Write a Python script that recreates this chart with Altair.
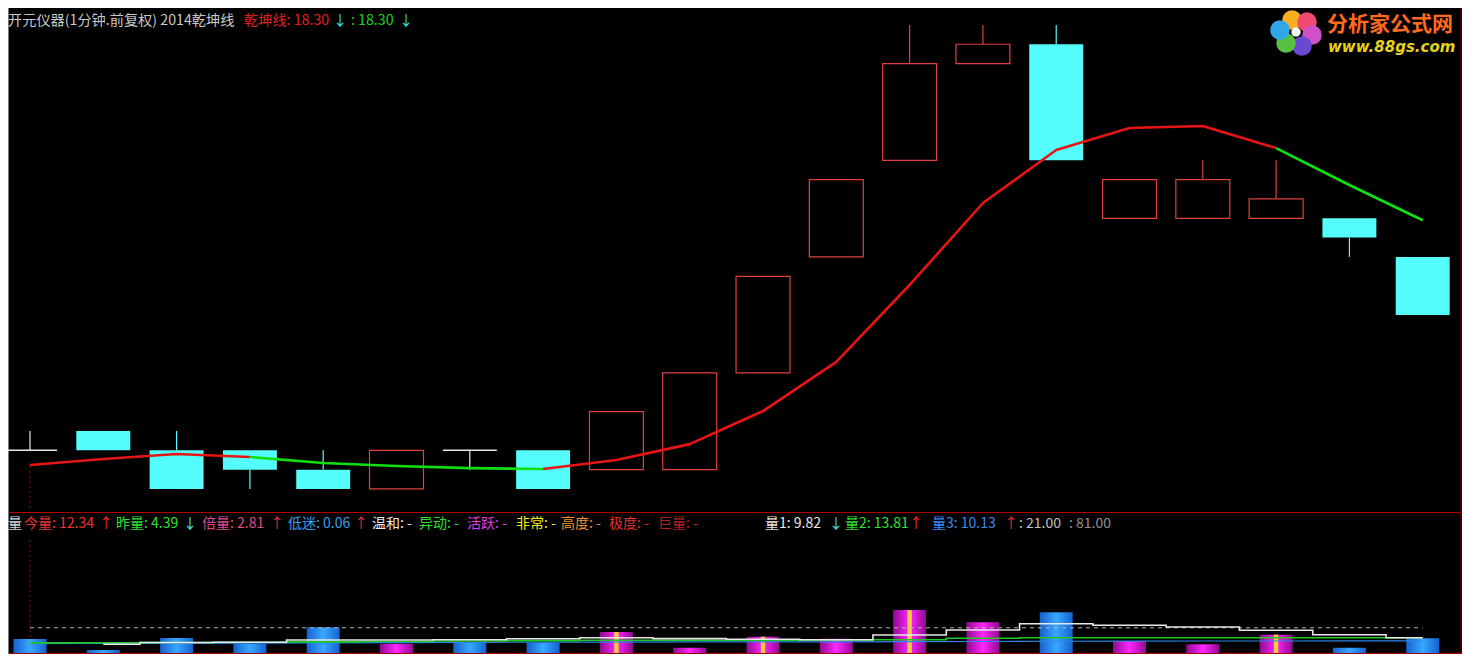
import altair as alt
import pandas as pd

W, H = 1454, 646
FONT = "Noto Sans CJK SC"

# ---------------- data ----------------
opens  = [18.18, 18.19, 18.18, 18.18, 18.17, 18.16, 18.18, 18.18, 18.17, 18.17,
          18.22, 18.28, 18.33, 18.38, 18.39, 18.30, 18.30, 18.30, 18.30, 18.28]
highs  = [18.19, 18.19, 18.19, 18.18, 18.18, 18.18, 18.18, 18.18, 18.20, 18.22,
          18.27, 18.32, 18.40, 18.40, 18.40, 18.32, 18.33, 18.33, 18.30, 18.28]
lows   = [18.18, 18.18, 18.16, 18.16, 18.16, 18.16, 18.17, 18.16, 18.17, 18.17,
          18.22, 18.28, 18.33, 18.38, 18.33, 18.30, 18.30, 18.30, 18.28, 18.25]
closes = [18.18, 18.18, 18.16, 18.17, 18.16, 18.18, 18.18, 18.16, 18.20, 18.22,
          18.27, 18.32, 18.38, 18.39, 18.33, 18.32, 18.32, 18.31, 18.29, 18.25]
qkx_line = [18.1724, 18.1755, 18.1781, 18.1765, 18.1734, 18.1719, 18.1708, 18.1703,
            18.1750, 18.1832, 18.2003, 18.2257, 18.2655, 18.3079, 18.3353, 18.3467,
            18.3477, 18.3363, 18.3172, 18.2990]
qkx_trend = ["r", "r", "r", "r", "g", "g", "g", "g", "r", "r",
             "r", "r", "r", "r", "r", "r", "r", "r", "g", "g"]

volumes = [11.7, 2.5, 12.5, 7.8, 21.4, 7.8, 8.6, 8.6, 17.5, 4.4,
           13.6, 11.9, 35.8, 25.6, 33.9, 10.0, 7.2, 15.3, 4.39, 12.34]
vol_flag = [0, 0, 0, 0, 0, 0, 0, 0, 1, 0, 1, 0, 1, 0, 0, 0, 0, 1, 0, 0]
ma_white = [None, 7.25, 8.75, 8.9, 10.8, 10.8, 11.1, 11.9, 12.75, 12.0,
            11.4, 11.1, 15.0, 19.2, 24.4, 23.1, 21.7, 19.0, 15.25, 12.75]
ma_green = [8.4, 8.6, 8.8, 9.0, 9.3, 9.6, 10.0, 10.3, 10.6, 10.6,
            10.6, 10.8, 11.0, 12.3, 12.75, 12.75, 12.75, 12.75, 12.75, 12.75]
ma_blue = [7.75, 7.9, 8.1, 8.3, 8.5, 8.7, 8.9, 9.0, 9.1, 9.2,
           9.2, 9.3, 9.4, 9.6, 9.8, 9.9, 10.0, 10.0, 10.1, 10.13]
vol_ref_level = 21.0

n = len(opens)
idx = list(range(n))

# ---------------- scales ----------------
xs = alt.Scale(domain=[-0.3001, 19.536], range=[0, W], nice=False, zero=False)
ys_price = alt.Scale(domain=[18.15, 18.41], range=[500.3, -2.4], nice=False, zero=False)
ys_vol = alt.Scale(domain=[0, 100], range=[645, 525], nice=False, zero=False)

def X(f):
    return alt.X(f, type="quantitative", scale=xs, axis=None)

def X2(f):
    return alt.X2(f)

def YP(f):
    return alt.Y(f, type="quantitative", scale=ys_price, axis=None)

def YV(f):
    return alt.Y(f, type="quantitative", scale=ys_vol, axis=None)

CYAN = "#54FCFC"
RED = "#E04040"
HW = 0.368

cand = pd.DataFrame({"i": idx, "o": opens, "h": highs, "l": lows, "c": closes})
cand["kind"] = ["up" if c > o else ("down" if c < o else "doji") for o, c in zip(opens, closes)]
cand["x1"] = cand["i"] - HW
cand["x2"] = cand["i"] + HW
cand["top"] = cand[["o", "c"]].max(axis=1)
cand["bot"] = cand[["o", "c"]].min(axis=1)
kcol = {"up": RED, "down": CYAN, "doji": "#E8E8E8"}
cand["col"] = cand["kind"].map(kcol)

up_w = cand[cand["h"] > cand["top"]]
lo_w = cand[cand["l"] < cand["bot"]]

layers = []

# frame lines
one = pd.DataFrame({"a": [0]})
layers.append(alt.Chart(one).mark_rule(color="#B00000", strokeWidth=1).encode(
    x=alt.value(0), x2=alt.value(W), y=alt.value(504.5)))
layers.append(alt.Chart(one).mark_rule(color="#A00000", strokeWidth=1.5).encode(
    x=alt.value(0), x2=alt.value(W), y=alt.value(645.5)))
layers.append(alt.Chart(one).mark_rule(color="#7A7A7A", strokeWidth=1).encode(
    x=alt.value(0.5), y=alt.value(0), y2=alt.value(H)))
layers.append(alt.Chart(one).mark_rule(color="#700000", strokeWidth=1).encode(
    x=alt.value(W - 1), y=alt.value(0), y2=alt.value(H)))

# dotted red verticals at first bar
layers.append(alt.Chart(pd.DataFrame({"i": [0]})).mark_rule(
    color="#901010", strokeDash=[2, 3], strokeWidth=1).encode(
    x=X("i"), y=alt.value(458), y2=alt.value(503)))
layers.append(alt.Chart(pd.DataFrame({"i": [0]})).mark_rule(
    color="#901010", strokeDash=[2, 3], strokeWidth=1).encode(
    x=X("i"), y=alt.value(532), y2=alt.value(636)))

# wicks
layers.append(alt.Chart(up_w).mark_rule(strokeWidth=1.2).encode(
    x=X("i"), y=YP("h"), y2=alt.Y2("top"), color=alt.Color("col:N", scale=None)))
layers.append(alt.Chart(lo_w).mark_rule(strokeWidth=1.2).encode(
    x=X("i"), y=YP("bot"), y2=alt.Y2("l"), color=alt.Color("col:N", scale=None)))

# bodies
layers.append(alt.Chart(cand[cand["kind"] == "down"]).mark_rect(fill=CYAN).encode(
    x=X("x1"), x2=X2("x2"), y=YP("o"), y2=alt.Y2("c")))
layers.append(alt.Chart(cand[cand["kind"] == "up"]).mark_rect(
    fill="black", stroke=RED, strokeWidth=1.2).encode(
    x=X("x1"), x2=X2("x2"), y=YP("o"), y2=alt.Y2("c")))
layers.append(alt.Chart(cand[cand["kind"] == "doji"]).mark_rule(
    color="#E8E8E8", strokeWidth=1.5).encode(
    x=X("x1"), x2=X2("x2"), y=YP("o")))

# 乾坤线 coloured runs
rows = []
runs = []
cur = None
for i in range(1, n):
    col = qkx_trend[i]
    if cur is None or col != cur[0]:
        cur = [col, [i - 1]]
        runs.append(cur)
    cur[1].append(i)
for k, (col, pts) in enumerate(runs):
    for p in pts:
        rows.append({"run": k, "i": p, "v": qkx_line[p],
                     "col": "#E81414" if col == "r" else "#10E010"})
qkx = pd.DataFrame(rows)
layers.append(alt.Chart(qkx).mark_line(strokeWidth=2.6, strokeJoin="round").encode(
    x=X("i"), y=YP("v"), detail="run:N", order="i:Q",
    color=alt.Color("col:N", scale=None)))

# volume bars
vol = pd.DataFrame({"i": idx, "v": volumes, "kind": cand["kind"], "flag": vol_flag})
vol["x1"] = vol["i"] - 0.225
vol["x2"] = vol["i"] + 0.225
vol["z"] = 0.0
vol["s1"] = vol["i"] - 0.03
vol["s2"] = vol["i"] + 0.03

blue_grad = alt.LinearGradient(
    gradient="linear", x1=0, x2=1, y1=0, y2=0,
    stops=[alt.GradientStop(color="#1660D0", offset=0),
           alt.GradientStop(color="#38A8FF", offset=0.5),
           alt.GradientStop(color="#1660D0", offset=1)])
mag_grad = alt.LinearGradient(
    gradient="linear", x1=0, x2=1, y1=0, y2=0,
    stops=[alt.GradientStop(color="#900A90", offset=0),
           alt.GradientStop(color="#FF26FF", offset=0.5),
           alt.GradientStop(color="#900A90", offset=1)])

layers.append(alt.Chart(vol[vol["kind"] != "up"]).mark_rect(fill=blue_grad).encode(
    x=X("x1"), x2=X2("x2"), y=YV("z"), y2=alt.Y2("v")))
layers.append(alt.Chart(vol[vol["kind"] == "up"]).mark_rect(fill=mag_grad).encode(
    x=X("x1"), x2=X2("x2"), y=YV("z"), y2=alt.Y2("v")))
layers.append(alt.Chart(vol[vol["flag"] == 1]).mark_rect(fill="#F8CC40").encode(
    x=X("s1"), x2=X2("s2"), y=YV("z"), y2=alt.Y2("v")))

# reference dashed level
lvl = pd.DataFrame({"a": [0], "b": [n - 1], "v": [vol_ref_level]})
layers.append(alt.Chart(lvl).mark_rule(color="#B4B4B4", strokeDash=[4, 4], strokeWidth=1).encode(
    x=X("a"), x2=X2("b"), y=YV("v")))

# volume averages
mw = pd.DataFrame({"i": idx, "v": ma_white}).dropna()
mg = pd.DataFrame({"i": idx, "v": ma_green})
mb = pd.DataFrame({"i": idx, "v": ma_blue})
layers.append(alt.Chart(mb).mark_line(color="#2A88E8", strokeWidth=1.2).encode(
    x=X("i"), y=YV("v")))
layers.append(alt.Chart(mg).mark_line(color="#20C820", strokeWidth=1.6, interpolate="step").encode(
    x=X("i"), y=YV("v")))
layers.append(alt.Chart(mw).mark_line(color="#E8E8E8", strokeWidth=1.6, interpolate="step").encode(
    x=X("i"), y=YV("v")))

# ---------------- texts ----------------
head = [
    (0, "开元仪器(1分钟.前复权) 2014乾坤线", "#C8C8C8"),
    (236, "乾坤线: 18.30", "#E02020"),
    (325, "↓", "#40E0F0"),
    (343, ": 18.30", "#20D020"),
    (391, "↓", "#40E0F0"),
]
vrow = [
    (0, "量", "#D8D8D8"),
    (16, "今量: 12.34", "#F03030"),
    (91, "↑", "#F03030"),
    (108, "昨量: 4.39", "#30E030"),
    (175, "↓", "#40E0F0"),
    (194, "倍量: 2.81", "#E04890"),
    (262, "↑", "#F03030"),
    (280, "低迷: 0.06", "#3CA0F0"),
    (346, "↑", "#F03030"),
    (364, "温和: -", "#E8E8E8"),
    (411, "异动: -", "#30E030"),
    (459, "活跃: -", "#E040E0"),
    (508, "非常: -", "#F0F020"),
    (553, "高度: -", "#F09030"),
    (601, "极度: -", "#E03030"),
    (650, "巨量: -", "#B02020"),
    (757, "量1: 9.82", "#E8E8E8"),
    (821, "↓", "#40E0F0"),
    (837, "量2: 13.81", "#30E030"),
    (901, "↑", "#F03030"),
    (924, "量3: 10.13", "#3C8CF0"),
    (996, "↑", "#F03030"),
    (1011, ": 21.00", "#C0C0C0"),
    (1061, ": 81.00", "#909090"),
]
hdf = pd.DataFrame([{"px": x, "py": 13, "t": t, "col": c} for x, t, c in head])
vdf = pd.DataFrame([{"px": x, "py": 516, "t": t, "col": c} for x, t, c in vrow])
layers.append(alt.Chart(hdf).mark_text(
    align="left", baseline="middle", font=FONT, fontSize=14.2).encode(
    x=alt.X("px:Q", scale=None, axis=None), y=alt.Y("py:Q", scale=None, axis=None),
    text="t:N", color=alt.Color("col:N", scale=None)))
layers.append(alt.Chart(vdf).mark_text(
    align="left", baseline="middle", font=FONT, fontSize=14).encode(
    x=alt.X("px:Q", scale=None, axis=None), y=alt.Y("py:Q", scale=None, axis=None),
    text="t:N", color=alt.Color("col:N", scale=None)))

# ---------------- logo ----------------
petals = pd.DataFrame([
    {"px": 1284, "py": 12, "col": "#F8B020"},
    {"px": 1299, "py": 14, "col": "#F04A70"},
    {"px": 1304, "py": 27, "col": "#D050C8"},
    {"px": 1294, "py": 38, "col": "#6A48D0"},
    {"px": 1278, "py": 35, "col": "#58C040"},
    {"px": 1272, "py": 22, "col": "#30A8E8"},
])
layers.append(alt.Chart(petals).mark_point(filled=True, shape="circle", size=380, opacity=1).encode(
    x=alt.X("px:Q", scale=None, axis=None), y=alt.Y("py:Q", scale=None, axis=None),
    color=alt.Color("col:N", scale=None)))
layers.append(alt.Chart(pd.DataFrame({"px": [1288], "py": [24]})).mark_point(
    filled=True, shape="circle", size=90, color="#F4F4F4", opacity=1).encode(
    x=alt.X("px:Q", scale=None, axis=None), y=alt.Y("py:Q", scale=None, axis=None)))
layers.append(alt.Chart(pd.DataFrame({"px": [1319], "py": [17], "t": ["分析家公式网"]})).mark_text(
    align="left", baseline="middle", font=FONT, fontSize=21, fontWeight="bold", color="#FF6A1E").encode(
    x=alt.X("px:Q", scale=None, axis=None), y=alt.Y("py:Q", scale=None, axis=None), text="t:N"))
layers.append(alt.Chart(pd.DataFrame({"px": [1320], "py": [39], "t": ["www.88gs.com"]})).mark_text(
    align="left", baseline="middle", font="DejaVu Sans", fontSize=15, fontWeight="bold",
    fontStyle="italic", color="#E6D21E").encode(
    x=alt.X("px:Q", scale=None, axis=None), y=alt.Y("py:Q", scale=None, axis=None), text="t:N"))

chart = alt.layer(*layers).properties(
    width=W, height=H, padding=0, background="black",
    autosize=alt.AutoSizeParams(type="none"),
).resolve_scale(x="independent", y="independent").configure_view(strokeWidth=0)

chart.save("out.html", embed_options={"renderer": "svg", "actions": False})
